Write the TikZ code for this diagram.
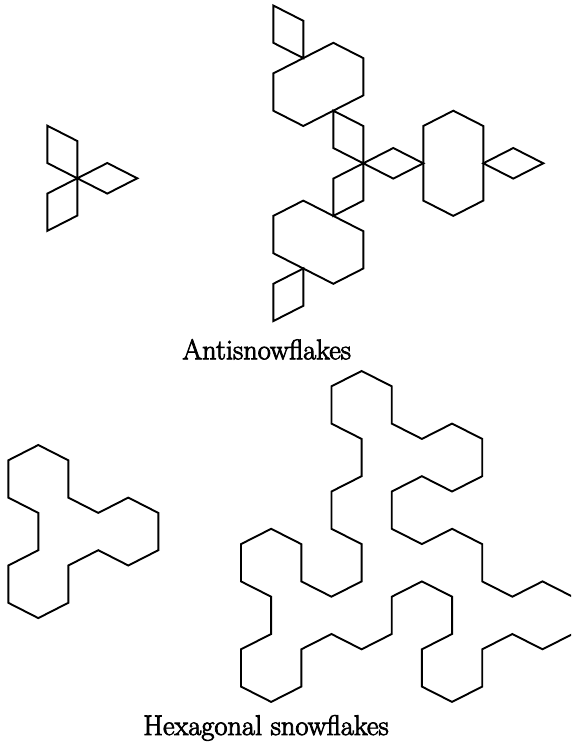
\documentclass[tikz,border=0pt]{standalone}
\usetikzlibrary{calc}
\newcommand\heavytext[1]{\special{pdf:literal direct 2 Tr 0.8 w}#1\special{pdf:literal direct 0 Tr}}
\begin{document}
\begin{tikzpicture}[x=1pt,y=-1pt,
  flake/.style={line width=1.9pt,line join=miter,black},
  caption/.style={inner sep=0pt,anchor=base,font=\fontsize{28.4}{32}\selectfont},
  declare function={
    bx(\i)=241+30.15*\i;
    by(\k)=371+52.6*floor(\k/2)+15.3*mod(\k,2);
    sx(\i)=8.3+30*\i;
    sy(\k)=445+52.6*floor(\k/2)+15.3*mod(\k,2);
  }]
\useasboundingbox (0,0) rectangle (571,745);
\clip (0,0) rectangle (571,745);
\def\V{37.3}
\def\h{15.3}
\def\w{30}

% ---------- small antisnowflake ----------
\coordinate (s0) at (77.3,178.3);
\draw[flake] (s0) -- ++(0,-\V) -- ++(-\w,-\h) -- ++(0,\V) -- cycle;
\draw[flake] (s0) -- ++(-\w,\h) -- ++(0,\V) -- ++(\w,-\h) -- cycle;
\draw[flake] (s0) -- ++(\w,-\h) -- ++(\w,\h) -- ++(-\w,\h) -- cycle;

% ---------- big antisnowflake ----------
\coordinate (C) at (363.3,163.3);
\draw[flake] (C) -- ++(0,-\V) -- ++(-\w,-\h) -- ++(0,\V) -- cycle;
\draw[flake] (C) -- ++(-\w,\h) -- ++(0,\V) -- ++(\w,-\h) -- cycle;
\draw[flake] (C) -- ++(\w,-\h) -- ++(\w,\h) -- ++(-\w,\h) -- cycle;
% upper hexagon
\coordinate (B) at ($(C)+(-\w,-\V-\h)+(-\w,\h)$);
\draw[flake] (B) -- ++(2*\w,-2*\h) -- ++(0,-\V) -- ++(-\w,-\h) -- ++(-2*\w,2*\h) -- ++(0,\V) -- cycle;
% top rhombus
\coordinate (Q) at ($(B)+(\w,-\h)+(0,-\V)+(-\w,-\h)$);
\draw[flake] (Q) -- ++(0,-\V) -- ++(-\w,-\h) -- ++(0,\V) -- cycle;
% right hexagon
\coordinate (R) at ($(C)+(2*\w,0)$);
\draw[flake] ($(R)+(0,-\V)$) -- ++(\w,-\h) -- ++(\w,\h) -- ++(0,2*\V) -- ++(-\w,\h) -- ++(-\w,-\h) -- cycle;
% right rhombus
\coordinate (S) at ($(R)+(2*\w,0)$);
\draw[flake] (S) -- ++(\w,-\h) -- ++(\w,\h) -- ++(-\w,\h) -- cycle;
% lower hexagon
\coordinate (T) at ($(C)+(-\w,\h+\V)$);
\draw[flake] ($(T)+(-\w,-\h)$) -- ++(2*\w,2*\h) -- ++(0,\V) -- ++(-\w,\h) -- ++(-2*\w,-2*\h) -- ++(0,-\V) -- cycle;
% bottom rhombus
\coordinate (U) at ($(T)+(-\w,\h+\V)$);
\draw[flake] (U) -- ++(0,\V) -- ++(-\w,\h) -- ++(0,-\V) -- cycle;

\node[caption] (cap1) at (266.7,359.3) {\heavytext{Antisnowflakes}};

% ---------- small hexagonal snowflake ----------
\draw[flake] ({sx(1)},{sy(0)})
  \foreach \i/\k in {0/1,0/2,1/3,1/4,0/5,0/6,1/7,2/6,2/5,3/4,4/5,5/4,5/3,4/2,3/3,2/2,2/1}
    { -- ({sx(\i)},{sy(\k)}) } -- cycle;

% ---------- big hexagonal snowflake ----------
\draw[flake] ({bx(4)},{by(0)})
  \foreach \i/\k in {3/1,3/2,4/3,4/4,3/5,3/6,4/7,4/8,3/9,2/8,2/7,1/6,0/7,0/8,1/9,1/10,0/11,0/12,1/13,2/12,2/11,3/10,4/11,5/10,5/9,6/8,7/9,7/10,6/11,6/12,7/13,8/12,8/11,9/10,10/11,11/10,11/9,10/8,9/9,8/8,8/7,7/6,6/7,5/6,5/5,6/4,7/5,8/4,8/3,7/2,6/3,5/2,5/1}
    { -- ({bx(\i)},{by(\k)}) } -- cycle;

\node[caption] (cap2) at (266,735) {\heavytext{Hexagonal snowflakes}};
\end{tikzpicture}
\end{document}
